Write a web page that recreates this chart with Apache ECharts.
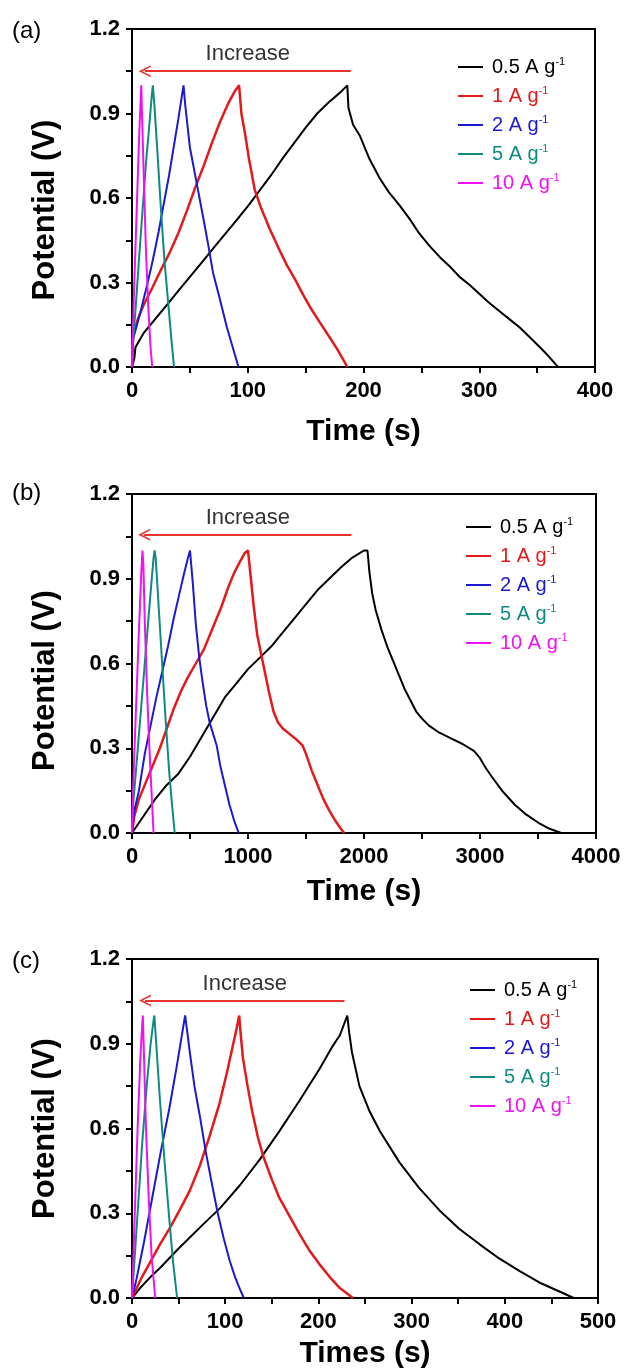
<!DOCTYPE html>
<html>
<head>
<meta charset="utf-8">
<script src="https://cdn.jsdelivr.net/npm/echarts@6/dist/echarts.min.js"></script>
<style>
html,body{margin:0;padding:0;background:#fff;}
#chart{width:628px;height:1371px;}
</style>
</head>
<body>
<div id="chart"></div>
<script>
// ---------- data ----------
var seriesLabels = ['0.5 A g', '1 A g', '2 A g', '5 A g', '10 A g'];
var seriesColors = ['#000000', '#e3191c', '#1a1ad2', '#0f8a80', '#f010f0'];
var seriesWidths = [2, 2.5, 2, 2, 2];
var yTicks = [0, 0.3, 0.6, 0.9, 1.2];
var xMaxA = 400, xMaxB = 4000, xMaxC = 500;

// panel (a)
var a05 = [[0,0],[2,0.03],[3,0.07],[10,0.12],[20,0.17],[30,0.22],[40,0.27],[50,0.32],[60,0.37],[70,0.42],[80,0.47],[90,0.52],[100,0.57],[110,0.625],[120,0.68],[130,0.74],[140,0.795],[150,0.85],[160,0.9],[170,0.94],[180,0.975],[186,1.0],[187,0.92],[191,0.86],[197,0.82],[205,0.74],[214,0.67],[222,0.62],[231,0.575],[240,0.525],[248,0.475],[257,0.43],[266,0.39],[275,0.355],[283,0.32],[292,0.29],[300,0.26],[308,0.23],[317,0.2],[326,0.17],[335,0.14],[343,0.108],[352,0.072],[360,0.038],[367,0.005],[368,0]];
var a1 = [[0,0],[1,0.11],[5,0.17],[10,0.22],[18,0.285],[25,0.345],[33,0.41],[40,0.475],[47,0.55],[54,0.63],[62,0.715],[69,0.795],[76,0.87],[83,0.935],[89,0.98],[92.5,1.0],[94.5,0.9],[98,0.82],[101,0.74],[106,0.63],[111,0.57],[119,0.49],[128,0.41],[134,0.36],[141,0.31],[148,0.255],[155,0.205],[162,0.16],[170,0.11],[177,0.065],[182,0.03],[186,0]];
var a2 = [[0,0],[1,0.1],[7,0.19],[13,0.29],[18,0.38],[23,0.48],[27,0.57],[32,0.68],[36,0.78],[40,0.88],[43,0.96],[44.5,1.0],[46,0.93],[50,0.78],[56,0.65],[62,0.52],[66,0.43],[70,0.335],[76,0.24],[82,0.14],[87,0.07],[92,0]];
var a5 = [[0,0],[1,0.1],[3,0.2],[6,0.38],[9,0.55],[12,0.72],[15,0.86],[17,0.96],[18,1.0],[19.5,0.92],[22,0.76],[25,0.56],[28,0.38],[31,0.24],[34,0.1],[36.3,0]];
var a10 = [[0,0],[0.5,0.1],[2,0.3],[4,0.55],[6,0.8],[7.5,0.95],[8,1.0],[8.5,0.92],[10,0.7],[12,0.42],[14,0.22],[16,0.07],[17.5,0]];

// panel (b)
var b05 = [[0,0],[100,0.06],[200,0.12],[300,0.17],[400,0.21],[500,0.27],[600,0.34],[700,0.41],[800,0.48],[900,0.53],[1000,0.58],[1100,0.62],[1200,0.66],[1300,0.71],[1400,0.76],[1500,0.81],[1600,0.86],[1700,0.9],[1800,0.94],[1900,0.975],[2000,1.0],[2030,1.0],[2045,0.93],[2070,0.85],[2100,0.79],[2150,0.72],[2200,0.66],[2250,0.61],[2300,0.56],[2350,0.51],[2400,0.47],[2450,0.43],[2500,0.405],[2560,0.38],[2650,0.355],[2750,0.335],[2850,0.315],[2950,0.29],[3000,0.265],[3050,0.23],[3100,0.2],[3200,0.145],[3300,0.1],[3400,0.065],[3500,0.037],[3600,0.015],[3700,0]];
var b1 = [[0,0],[20,0.06],[60,0.12],[120,0.18],[180,0.24],[240,0.3],[300,0.37],[360,0.44],[420,0.5],[480,0.55],[550,0.6],[620,0.65],[700,0.73],[770,0.8],[830,0.87],[880,0.92],[930,0.96],[970,0.99],[1000,1.0],[1010,1.0],[1025,0.9],[1050,0.8],[1080,0.7],[1110,0.64],[1150,0.56],[1180,0.5],[1220,0.43],[1260,0.39],[1300,0.37],[1360,0.35],[1420,0.33],[1470,0.31],[1500,0.28],[1550,0.22],[1600,0.17],[1650,0.12],[1700,0.08],[1750,0.045],[1800,0.015],[1830,0]];
var b2 = [[0,0],[20,0.08],[60,0.15],[110,0.28],[160,0.38],[210,0.48],[260,0.57],[310,0.66],[360,0.76],[410,0.85],[450,0.92],[480,0.97],[500,1.0],[510,1.0],[525,0.88],[550,0.74],[580,0.62],[610,0.53],[640,0.45],[670,0.39],[700,0.35],[730,0.31],[760,0.24],[800,0.17],[840,0.1],[880,0.045],[920,0]];
var b5 = [[0,0],[10,0.1],[40,0.25],[80,0.45],[120,0.65],[160,0.85],[185,0.97],[195,1.0],[205,0.97],[230,0.8],[260,0.6],[290,0.4],[320,0.22],[345,0.1],[368,0]];
var b10 = [[0,0],[5,0.1],[20,0.28],[40,0.5],[60,0.72],[80,0.92],[90,1.0],[98,0.95],[110,0.75],[130,0.5],[150,0.3],[170,0.13],[186,0]];

// panel (c)
var c05 = [[0,0],[10,0.04],[20,0.075],[30,0.106],[50,0.175],[73,0.25],[95,0.32],[116,0.4],[137,0.49],[158,0.59],[180,0.7],[201,0.81],[215,0.89],[223,0.93],[231,1.0],[233,0.94],[236,0.87],[244,0.75],[255,0.66],[266,0.59],[287,0.48],[308,0.39],[330,0.31],[351,0.245],[373,0.19],[394,0.14],[416,0.095],[437,0.055],[458,0.024],[474,0]];
var c1 = [[0,0],[10,0.07],[20,0.13],[30,0.19],[41,0.25],[51,0.31],[62,0.38],[73,0.47],[83,0.57],[94,0.69],[102,0.8],[108,0.89],[112,0.95],[115,1.0],[117,0.92],[119,0.85],[124,0.75],[129,0.66],[135,0.57],[141,0.5],[150,0.42],[158,0.355],[169,0.29],[180,0.225],[190,0.17],[201,0.12],[212,0.075],[223,0.035],[237,0]];
var c2 = [[0,0],[5,0.07],[13,0.2],[22,0.36],[31,0.52],[40,0.67],[48,0.82],[54,0.94],[57,1.0],[59,0.95],[62,0.87],[67,0.75],[73,0.64],[79,0.52],[86,0.4],[92,0.3],[98.5,0.21],[105,0.13],[111,0.07],[116,0.03],[120,0]];
var c5 = [[0,0],[2,0.1],[6,0.3],[11,0.55],[16,0.76],[20,0.9],[23,0.98],[24,1.0],[26,0.9],[30,0.7],[35,0.48],[40,0.28],[44,0.13],[48.4,0]];
var c10 = [[0,0],[1,0.1],[3,0.3],[6,0.6],[9,0.85],[11,0.97],[11.6,1.0],[12.5,0.9],[15,0.6],[18,0.35],[21,0.15],[24.9,0]];

// arrow ("Increase") endpoints per panel
var arrowA = [[11, 1.05], [189, 1.05]];
var arrowB = [[105, 1.056], [1892, 1.056]];
var arrowC = [[14, 1.053], [228, 1.053]];

var xTitles = ['Time (s)', 'Time (s)', 'Times (s)'];
var panelLetters = ['(a)', '(b)', '(c)'];

// ---------- layout ----------
var FONT = 'Liberation Sans, Arial, sans-serif';
var panels = [
  {top: 29, height: 338, width: 463, xMax: xMaxA, interval: 100, data: [a05, a1, a2, a5, a10], arrow: arrowA, nameGap: 50, yPad: 24, legendLeft: 458, legendTop: 56, letterY: 32},
  {top: 494, height: 339, width: 464, xMax: xMaxB, interval: 1000, data: [b05, b1, b2, b5, b10], arrow: arrowB, nameGap: 44, yPad: 34, legendLeft: 466, legendTop: 516, letterY: 494},
  {top: 959, height: 339, width: 466, xMax: xMaxC, interval: 100, data: [c05, c1, c2, c5, c10], arrow: arrowC, nameGap: 41, yPad: 0, legendLeft: 470, legendTop: 979, letterY: 962}
];

var arrowHead = 'path://M0,12 L6,0 L12,12 L10.2,12 L6,3.6 L1.8,12 Z';

var grids = [], xAxes = [], yAxes = [], series = [], legends = [], graphics = [];
var rich = {};
seriesColors.forEach(function (c, i) {
  rich['t' + i] = {fontSize: 20, fontFamily: FONT, color: c, lineHeight: 22, padding: [0, 0, 0, 4]};
  rich['s' + i] = {fontSize: 11, fontFamily: FONT, color: c, lineHeight: 22, verticalAlign: 'top'};
});

panels.forEach(function (p, pi) {
  grids.push({left: 132, top: p.top, width: p.width, height: p.height, show: true, borderColor: '#000', borderWidth: 2, containLabel: false});
  xAxes.push({
    type: 'value', gridIndex: pi, min: 0, max: p.xMax, interval: p.interval,
    axisLine: {onZero: false, lineStyle: {color: '#000', width: 2}},
    axisTick: {inside: false, length: 6, lineStyle: {color: '#000', width: 2}},
    minorTick: {show: true, splitNumber: 2, length: 6, lineStyle: {color: '#000', width: 2}},
    splitLine: {show: false},
    axisLabel: {fontSize: 22, fontWeight: 'bold', color: '#000', fontFamily: FONT, margin: 13,
      formatter: function (v) { return String(v); }},
    name: xTitles[pi], nameLocation: 'middle', nameGap: p.nameGap,
    nameTextStyle: {fontSize: 30, fontWeight: 'bold', color: '#000', fontFamily: FONT}
  });
  yAxes.push({
    type: 'value', gridIndex: pi, min: yTicks[0], max: yTicks[yTicks.length - 1], interval: yTicks[1] - yTicks[0],
    axisLine: {onZero: false, lineStyle: {color: '#000', width: 2}},
    axisTick: {inside: false, length: 6, lineStyle: {color: '#000', width: 2}},
    minorTick: {show: true, splitNumber: 2, length: 6, lineStyle: {color: '#000', width: 2}},
    splitLine: {show: false},
    axisLabel: {fontSize: 22, fontWeight: 'bold', color: '#000', fontFamily: FONT, margin: 12,
      formatter: function (v) { return v.toFixed(1); }},
    name: 'Potential (V)', nameLocation: 'middle', nameGap: 71, nameRotate: 90,
    nameTextStyle: {fontSize: 31, fontWeight: 'bold', color: '#000', fontFamily: FONT, padding: [0, p.yPad, 0, 0]}
  });
  p.data.forEach(function (d, si) {
    var s = {
      type: 'line', name: seriesLabels[si] + '-1', xAxisIndex: pi, yAxisIndex: pi,
      data: d, showSymbol: false, symbol: 'none', smooth: false, animation: false,
      lineStyle: {color: seriesColors[si], width: seriesWidths[si]}, itemStyle: {color: seriesColors[si]},
      z: 2 + si
    };
    if (si === 0) {
      s.markLine = {
        silent: true, animation: false, symbolSize: [12, 12],
        lineStyle: {color: '#e8342c', width: 2, type: 'solid'},
        label: {show: true, position: 'middle', formatter: 'Increase', fontSize: 22, color: '#333', fontFamily: FONT, distance: 6},
        data: [[{coord: p.arrow[0], symbol: arrowHead}, {coord: p.arrow[1], symbol: 'none'}]]
      };
    }
    series.push(s);
  });
  legends.push({
    show: true, orient: 'vertical', left: p.legendLeft, top: p.legendTop, padding: 0,
    itemWidth: 25, itemHeight: 2, itemGap: 8, icon: 'rect', selectedMode: false,
    data: seriesLabels.map(function (l) { return l + '-1'; }),
    formatter: function (name) {
      var i = seriesLabels.indexOf(name.replace(/-1$/, ''));
      return '{t' + i + '|' + seriesLabels[i] + '}{s' + i + '|-1}';
    },
    textStyle: {fontSize: 20, fontFamily: FONT, rich: rich}
  });
  graphics.push({type: 'text', left: 12, top: p.letterY - 13,
    style: {text: panelLetters[pi], fontSize: 24, fontFamily: FONT, fill: '#000'}});
});

var chart = echarts.init(document.getElementById('chart'), null, {renderer: 'canvas'});
chart.setOption({
  backgroundColor: '#fff',
  animation: false,
  grid: grids, xAxis: xAxes, yAxis: yAxes, series: series, legend: legends, graphic: graphics
});
</script>
</body>
</html>
